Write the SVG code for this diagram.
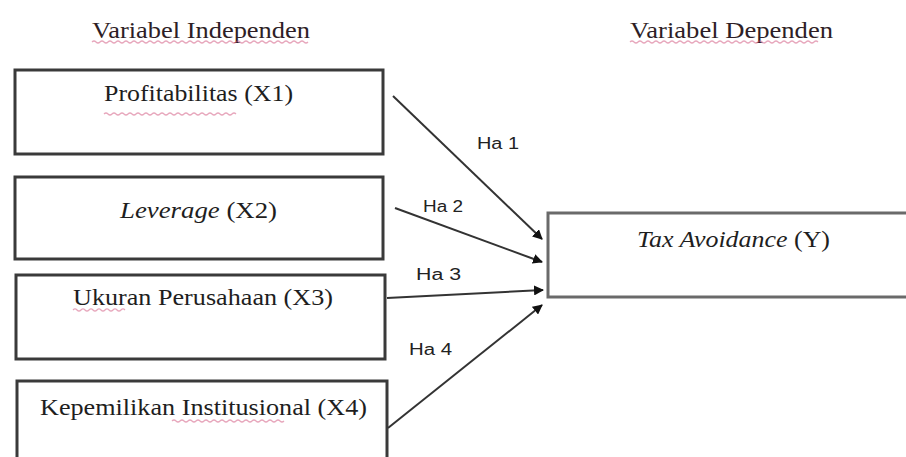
<svg xmlns="http://www.w3.org/2000/svg" width="906" height="457" viewBox="0 0 906 457">
  <defs>
    <marker id="arrow" viewBox="0 0 10 10" refX="9" refY="5" markerWidth="5" markerHeight="5" markerUnits="strokeWidth" orient="auto">
      <path d="M0,0 L10,5 L0,10 z" fill="#111"/>
    </marker>
    <style>
      .box { fill: #fff; stroke: #3a3a3a; stroke-width: 3; }
      .boxY { fill: #fff; stroke: #6a6a6a; stroke-width: 3; }
      .lbl { font-family: "Liberation Serif", "Times New Roman", serif; font-size: 23px; fill: #1e1e1e; }
      .title { font-family: "Liberation Serif", "Times New Roman", serif; font-size: 23px; fill: #2e1e26; }
      .ha { font-family: "Liberation Sans", Arial, sans-serif; font-size: 16px; fill: #222; }
      .link { stroke: #333; stroke-width: 2; fill: none; marker-end: url(#arrow); }
      .spell { stroke: #d0507a; stroke-width: 1.2; fill: none; opacity: 0.5; }
    </style>
  </defs>
  <rect width="906" height="457" fill="#fff"/>

  <!-- column headings -->
  <g id="heading-independent">
    <text class="title" x="92" y="38" textLength="218" lengthAdjust="spacingAndGlyphs">Variabel Independen</text>
    <path class="spell" d="M92,42 q2,-2 4,0 t4,0 t4,0 t4,0 t4,0 t4,0 t4,0 t4,0 t4,0 t4,0 t4,0 t4,0 t4,0 t4,0 t4,0 t4,0 t4,0 t4,0 t4,0 t4,0 t4,0 t4,0 t4,0 t4,0 t4,0 t4,0 t4,0 t4,0 t4,0 t4,0 t4,0 t4,0 t4,0 t4,0 t4,0 t4,0 t4,0 t4,0 t4,0 t4,0 t4,0 t4,0 t4,0 t4,0 t4,0 t4,0 t4,0 t4,0 t4,0 t4,0 t4,0 t4,0 t4,0 t4,0"/>
  </g>
  <g id="heading-dependent">
    <text class="title" x="630" y="38" textLength="203" lengthAdjust="spacingAndGlyphs">Variabel Dependen</text>
    <path class="spell" d="M630,42 q2,-2 4,0 t4,0 t4,0 t4,0 t4,0 t4,0 t4,0 t4,0 t4,0 t4,0 t4,0 t4,0 t4,0 t4,0 t4,0 t4,0 t4,0 t4,0 t4,0 t4,0 t4,0 t4,0 t4,0 t4,0 t4,0 t4,0 t4,0 t4,0 t4,0 t4,0 t4,0 t4,0 t4,0 t4,0 t4,0 t4,0 t4,0 t4,0 t4,0 t4,0 t4,0 t4,0 t4,0 t4,0 t4,0 t4,0 t4,0"/>
  </g>

  <!-- independent variables -->
  <g id="node-x1">
    <rect class="box" x="15" y="70" width="368" height="84"/>
    <text class="lbl" x="104" y="101" textLength="189" lengthAdjust="spacingAndGlyphs">Profitabilitas (X1)</text>
    <path class="spell" d="M104,114 q2,-2 4,0 t4,0 t4,0 t4,0 t4,0 t4,0 t4,0 t4,0 t4,0 t4,0 t4,0 t4,0 t4,0 t4,0 t4,0 t4,0 t4,0 t4,0 t4,0 t4,0 t4,0 t4,0 t4,0 t4,0 t4,0 t4,0 t4,0 t4,0 t4,0 t4,0 t4,0 t4,0 t4,0"/>
  </g>
  <g id="node-x2">
    <rect class="box" x="15" y="177" width="368" height="82"/>
    <text class="lbl" x="120" y="218" textLength="157" lengthAdjust="spacingAndGlyphs"><tspan font-style="italic">Leverage</tspan> (X2)</text>
  </g>
  <g id="node-x3">
    <rect class="box" x="16" y="275" width="369" height="84"/>
    <text class="lbl" x="73" y="305" textLength="260" lengthAdjust="spacingAndGlyphs">Ukuran Perusahaan (X3)</text>
    <path class="spell" d="M73,310 q2,-2 4,0 t4,0 t4,0 t4,0 t4,0 t4,0 t4,0 t4,0 t4,0 t4,0 t4,0 t4,0 t4,0"/>
  </g>
  <g id="node-x4">
    <rect class="box" x="17" y="381" width="370" height="90"/>
    <text class="lbl" x="40" y="415" textLength="327" lengthAdjust="spacingAndGlyphs">Kepemilikan Institusional (X4)</text>
    <path class="spell" d="M172,421 q2,-2 4,0 t4,0 t4,0 t4,0 t4,0 t4,0 t4,0 t4,0 t4,0 t4,0 t4,0 t4,0 t4,0 t4,0 t4,0 t4,0 t4,0 t4,0 t4,0 t4,0 t4,0 t4,0 t4,0 t4,0 t4,0 t4,0 t4,0 t4,0"/>
  </g>

  <!-- dependent variable -->
  <g id="node-y">
    <rect class="boxY" x="548" y="213" width="370" height="84"/>
    <text class="lbl" x="637" y="247" textLength="193" lengthAdjust="spacingAndGlyphs"><tspan font-style="italic">Tax Avoidance</tspan> (Y)</text>
  </g>

  <!-- hypothesis arrows -->
  <g id="connectors">
    <line class="link" x1="393" y1="96" x2="542" y2="239"/>
    <line class="link" x1="395" y1="208" x2="542" y2="262"/>
    <line class="link" x1="387" y1="298" x2="543" y2="290"/>
    <line class="link" x1="388" y1="428" x2="542" y2="305"/>
    <text class="ha" x="477" y="149" textLength="42" lengthAdjust="spacingAndGlyphs">Ha 1</text>
    <text class="ha" x="423" y="212" textLength="40" lengthAdjust="spacingAndGlyphs">Ha 2</text>
    <text class="ha" x="416" y="280" textLength="45" lengthAdjust="spacingAndGlyphs">Ha 3</text>
    <text class="ha" x="409" y="355" textLength="43" lengthAdjust="spacingAndGlyphs">Ha 4</text>
  </g>
</svg>
